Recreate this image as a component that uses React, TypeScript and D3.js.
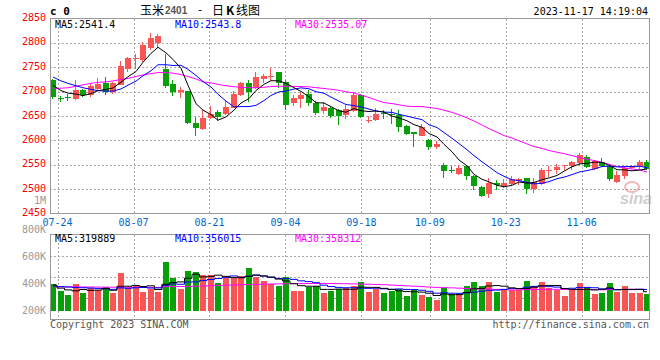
import React from "react";
import * as d3 from "d3";

// trading days shown (07-21 .. 11-17)
const dates = [
  "07-21", "07-24", "07-25", "07-26", "07-27", "07-28", "07-31",
  "08-01", "08-02", "08-03", "08-04", "08-07", "08-08", "08-09", "08-10", "08-11",
  "08-14", "08-15", "08-16", "08-17", "08-18", "08-21", "08-22", "08-23", "08-24", "08-25",
  "08-28", "08-29", "08-30", "08-31", "09-01", "09-04", "09-05", "09-06", "09-07", "09-08",
  "09-11", "09-12", "09-13", "09-14", "09-15", "09-18", "09-19", "09-20", "09-21", "09-22",
  "09-25", "09-26", "09-27", "09-28", "10-09", "10-10", "10-11", "10-12", "10-13",
  "10-16", "10-17", "10-18", "10-19", "10-20", "10-23", "10-24", "10-25", "10-26", "10-27",
  "10-30", "10-31", "11-01", "11-02", "11-03", "11-06", "11-07", "11-08", "11-09", "11-10",
  "11-13", "11-14", "11-15", "11-16", "11-17",
];
const dateTicks = ["07-24", "08-07", "08-21", "09-04", "09-18", "10-09", "10-23", "11-06"];
const priceTicks = [2850, 2800, 2750, 2700, 2650, 2600, 2550, 2500, 2450];
const volTickLabels = ["800K", "600K", "400K", "200K"];

const open = [
  2723, 2687, 2688, 2684, 2704, 2694, 2705, 2718, 2700, 2714,
  2746, 2766, 2765, 2789, 2800, 2746, 2715, 2700, 2701, 2635,
  2624, 2646, 2659, 2654, 2667, 2693, 2718, 2708, 2725, 2731,
  2740, 2719, 2676, 2685, 2695, 2677, 2661, 2667, 2662, 2653,
  2660, 2694, 2641, 2641, 2657, 2655, 2652, 2630, 2617, 2610,
  2601, 2587, 2550, 2539, 2532, 2547, 2527, 2504, 2489, 2512,
  2506, 2510, 2516, 2522, 2501, 2510, 2537, 2539, 2547, 2548,
  2554, 2566, 2542, 2555, 2547, 2514, 2527, 2544, 2545, 2555,
];
const high = [
  2726, 2692, 2695, 2723, 2706, 2717, 2727, 2729, 2720, 2762,
  2771, 2778, 2801, 2820, 2818, 2778, 2723, 2710, 2702, 2647,
  2662, 2670, 2662, 2681, 2702, 2720, 2723, 2740, 2737, 2749,
  2740, 2723, 2693, 2700, 2703, 2680, 2679, 2670, 2664, 2672,
  2700, 2696, 2649, 2666, 2662, 2664, 2663, 2631, 2617, 2634,
  2602, 2598, 2554, 2548, 2550, 2550, 2530, 2506, 2522, 2518,
  2520, 2527, 2523, 2522, 2522, 2544, 2548, 2552, 2550, 2557,
  2575, 2571, 2557, 2564, 2550, 2537, 2548, 2550, 2559, 2559,
];
const low = [
  2685, 2679, 2681, 2683, 2688, 2688, 2703, 2694, 2696, 2713,
  2740, 2747, 2761, 2786, 2790, 2708, 2691, 2687, 2633, 2609,
  2622, 2643, 2639, 2652, 2666, 2691, 2679, 2706, 2717, 2721,
  2707, 2662, 2670, 2666, 2670, 2652, 2654, 2645, 2632, 2643,
  2658, 2645, 2635, 2639, 2643, 2634, 2618, 2611, 2587, 2608,
  2580, 2582, 2522, 2533, 2528, 2519, 2498, 2484, 2482, 2498,
  2503, 2506, 2508, 2491, 2493, 2508, 2525, 2531, 2540, 2540,
  2550, 2544, 2540, 2546, 2516, 2512, 2520, 2541, 2541, 2540,
];
const close = [
  2690, 2685, 2687, 2704, 2693, 2711, 2715, 2700, 2718, 2752,
  2768, 2768, 2795, 2809, 2815, 2711, 2700, 2704, 2635, 2626,
  2645, 2654, 2647, 2669, 2695, 2718, 2700, 2730, 2732, 2732,
  2717, 2673, 2687, 2693, 2677, 2657, 2669, 2650, 2649, 2664,
  2694, 2647, 2642, 2654, 2654, 2652, 2628, 2613, 2614, 2628,
  2587, 2593, 2537, 2538, 2544, 2527, 2506, 2486, 2512, 2508,
  2512, 2521, 2520, 2500, 2515, 2540, 2540, 2545, 2550, 2555,
  2569, 2546, 2557, 2547, 2521, 2528, 2544, 2548, 2555, 2542,
];
const ma5 = [
  2713, 2702, 2697, 2695, 2691.8, 2696, 2702, 2704.6, 2707.4, 2719.2,
  2730.6, 2741.2, 2760.2, 2778.4, 2791, 2779.6, 2766, 2747.8, 2713, 2675.2,
  2662, 2652.8, 2641.4, 2648.2, 2662, 2676.6, 2685.8, 2702.4, 2715, 2722.4,
  2722.2, 2716.8, 2708.2, 2700.4, 2689.4, 2677.4, 2676.6, 2669.2, 2660.4, 2657.8,
  2665.2, 2660.8, 2659.2, 2660.2, 2658.2, 2649.8, 2646, 2640.2, 2632.2, 2627,
  2614, 2607, 2591.8, 2576.6, 2559.8, 2547.8, 2530.4, 2520.2, 2515, 2507.8,
  2504.8, 2507.8, 2514.6, 2512.2, 2513.6, 2519.2, 2523, 2528, 2538, 2546,
  2551.8, 2553, 2555.4, 2554.8, 2548, 2539.8, 2539.4, 2537.6, 2539.2, 2541.4,
];
const ma10 = [
  2730, 2722, 2717, 2712, 2708, 2704.5, 2702, 2701, 2701, 2705.5,
  2713.3, 2721.6, 2732.4, 2742.9, 2755.1, 2755.1, 2753.6, 2754, 2745.7, 2733.1,
  2720.8, 2709.4, 2694.6, 2680.6, 2668.6, 2669.3, 2669.3, 2671.9, 2681.6, 2692.2,
  2699.4, 2701.3, 2705.3, 2707.7, 2705.9, 2699.8, 2696.7, 2688.7, 2680.4, 2673.6,
  2671.3, 2668.7, 2664.2, 2660.3, 2658, 2657.5, 2653.4, 2649.7, 2646.2, 2642.6,
  2631.9, 2626.5, 2616, 2604.4, 2593.4, 2580.9, 2568.7, 2556, 2545.8, 2533.8,
  2526.3, 2519.1, 2517.4, 2513.6, 2510.7, 2512, 2515.4, 2521.3, 2525.1, 2529.8,
  2535.5, 2538, 2541.7, 2546.4, 2547, 2545.8, 2546.2, 2546.5, 2547, 2543.8,
];
const ma30 = [
  2706, 2707, 2708, 2711, 2714, 2717, 2719, 2720, 2722, 2725,
  2727, 2731, 2734, 2737, 2739, 2739, 2738, 2735, 2731, 2726,
  2720, 2718, 2715, 2712, 2710, 2709, 2708, 2708, 2709, 2710.3,
  2711.2, 2710.8, 2710.8, 2710.4, 2709.9, 2708.1, 2706.5, 2704.9, 2702.6, 2699.6,
  2697.2, 2693.1, 2688, 2682.9, 2677.5, 2675.5, 2673.1, 2670.1, 2669.4, 2669.5,
  2667.5, 2665.5, 2661.8, 2657.5, 2652.4, 2646.1, 2639.6, 2631.5, 2624.1, 2616.7,
  2609.8, 2604.8, 2599.2, 2592.8, 2587.4, 2583.5, 2579.2, 2575.7, 2572.4, 2568.7,
  2564.6, 2561.2, 2558.4, 2554.8, 2550.4, 2546.2, 2543.4, 2541.3, 2539.3, 2535.07,
];

// volume, in thousands of lots
const volume = [
  442, 331, 265, 447, 298, 375, 348, 403, 298, 629,
  375, 414, 315, 359, 315, 817, 552, 370, 668, 646,
  596, 596, 469, 569, 541, 585, 718, 569, 502, 447,
  414, 563, 337, 337, 403, 414, 304, 337, 364, 386,
  414, 486, 315, 359, 304, 331, 364, 254, 348, 270,
  237, 182, 375, 282, 282, 414, 486, 414, 486, 309,
  364, 348, 348, 502, 414, 480, 375, 342, 254, 348,
  464, 397, 287, 304, 464, 309, 414, 304, 304, 282,
];
const vma5 = [
  430, 380, 350, 335, 357, 343, 347, 374, 344, 411,
  411, 424, 406, 418, 356, 444, 472, 483, 544, 611,
  566, 575, 595, 575, 554, 552, 576, 596, 583, 564,
  530, 499, 453, 420, 411, 411, 359, 359, 364, 361,
  361, 397, 393, 392, 376, 359, 335, 322, 320, 313,
  295, 258, 282, 269, 272, 307, 368, 376, 416, 422,
  412, 384, 371, 374, 395, 418, 424, 423, 373, 360,
  357, 361, 350, 360, 383, 352, 356, 359, 359, 319.9,
];
const vma10 = [
  414, 405, 398, 392, 386, 381, 375, 368, 360, 384,
  377, 385, 390, 381, 383, 427, 448, 444, 481, 483,
  505, 523, 539, 560, 582, 559, 576, 596, 579, 559,
  541, 538, 525, 501, 488, 470, 429, 406, 392, 386,
  386, 378, 376, 378, 368, 360, 366, 358, 356, 345,
  327, 296, 302, 295, 293, 301, 313, 329, 343, 347,
  359, 376, 373, 395, 409, 415, 404, 397, 374, 378,
  388, 392, 386, 367, 372, 354, 358, 355, 360, 356,
];
const vma30 = [
  403, 402, 401, 400, 399, 398, 397, 396, 395, 394,
  394, 393, 393, 392, 392, 403, 405, 406, 408, 412,
  416, 420, 425, 429, 433, 436, 440, 442, 445, 448,
  450, 452, 454, 455, 456, 457, 457, 456, 455, 453,
  450, 447, 444, 440, 436, 430, 425, 418, 412, 405,
  398, 392, 388, 384, 379, 374, 369, 364, 364, 359,
  357, 350, 351, 356, 356, 359, 361, 361, 358, 356,
  358, 355, 354, 352, 358, 357, 358, 360, 359, 358.3,
];

const RED = "#f95555";
const GREEN = "#08a008";
const GRID = "#aaaaaa";
const BORDER = "#999999";
const MONO = "DejaVu Sans Mono, monospace";

const L = 50, R = 650;
const P_TOP = 18.5, P_BOT = 213.5;
const V_TOP = 234.5, V_BOT = 319.5, V_BASE = 311;

export default function App() {
  const idx = dates.map((_, i) => i);
  const x = d3.scaleBand<number>().domain(idx).range([L, R]).paddingInner(0.24).paddingOuter(0).align(0);
  const bw = Math.round(x.bandwidth());
  const left = (i: number) => Math.round(x(i) ?? 0);
  const cx = (i: number) => left(i) + bw / 2;
  // date grid is spread over one slot less than the candles
  const gx = d3.scaleLinear().domain([0, dates.length - 1]).range([L, R]);

  const y = d3.scaleLinear().domain([2450, 2850]).range([P_BOT, P_TOP]);
  const yv = d3.scaleLinear().domain([0, 1270]).range([V_BASE, V_TOP]);
  const yvLab = d3.scalePoint<string>().domain(volTickLabels).range([233, 314]);

  const priceLine = (vals: number[]) =>
    d3.line<number>().x((_, i) => cx(i)).y((d) => y(d))(vals) ?? "";
  const volLine = (vals: number[]) =>
    d3.line<number>().x((_, i) => cx(i)).y((d) => yv(d)).curve(d3.curveStep)(vals) ?? "";

  const up = (i: number) => close[i] >= open[i];
  const crisp = (v: number) => Math.round(v) + 0.5;

  return (
    <svg width={660} height={360} style={{ position: "absolute", left: 0, top: 0, background: "#fff" }}>
      {/* header */}
      <text x={50} y={15} fontFamily={MONO} fontWeight="bold" fontSize={11}>c 0</text>
      <g fontFamily="Noto Sans CJK SC" fontSize={12} fill="#000">
        <text x={140} y={14.5}>玉米</text>
        <text x={165} y={14} fontFamily="Liberation Sans" fontWeight="bold" fontSize={10} fill="#555">2401</text>
        <text x={198} y={14}>-</text>
        <text x={212} y={14.5}>日</text>
        <text x={226} y={14.5} fontWeight="bold">K</text>
        <text x={236} y={14.5}>线图</text>
      </g>
      <text x={648} y={15} textAnchor="end" fontFamily={MONO} fontSize={10}>2023-11-17 14:19:04</text>

      {/* price panel grid */}
      {priceTicks.slice(1, -1).map((t) => (
        <line key={t} x1={L} x2={R} y1={crisp(y(t))} y2={crisp(y(t))} stroke={GRID} strokeDasharray="2 2" shapeRendering="crispEdges" />
      ))}
      {dateTicks.map((d) => (
        <line key={d} x1={crisp(gx(dates.indexOf(d)))} x2={crisp(gx(dates.indexOf(d)))} y1={P_TOP} y2={P_BOT} stroke={GRID} strokeDasharray="2 2" shapeRendering="crispEdges" />
      ))}
      {priceTicks.map((t) => (
        <text key={t} x={46} y={y(t) + 2.5} textAnchor="end" fill="#ff0000" fontFamily={MONO} fontSize={10}>{t}</text>
      ))}
      <text x={46} y={204} textAnchor="end" fill="#999" fontFamily={MONO} fontSize={10}>1M</text>

      {/* watermark */}
      <g opacity={0.4}>
        <ellipse cx={632} cy={187} rx={7} ry={5} fill="none" stroke="#e05050" strokeWidth={2} />
        <text x={636} y={204} textAnchor="middle" fontFamily="Liberation Sans" fontStyle="italic" fontWeight="bold" fontSize={16} fill="#888">sina</text>
      </g>

      {/* candles */}
      {idx.map((i) => {
        const col = up(i) ? RED : GREEN;
        const top = y(Math.max(open[i], close[i]));
        const bot = y(Math.min(open[i], close[i]));
        return (
          <g key={i} shapeRendering="crispEdges">
            <line x1={cx(i) - 0.5} x2={cx(i) - 0.5} y1={y(high[i])} y2={y(low[i])} stroke={col} />
            <rect x={left(i)} y={top} width={bw} height={Math.max(1, bot - top)} fill={col} />
          </g>
        );
      })}
      <path d={priceLine(ma30)} fill="none" stroke="#ff00ff" />
      <path d={priceLine(ma10)} fill="none" stroke="#0000ff" />
      <path d={priceLine(ma5)} fill="none" stroke="#000" />

      <rect x={L + 0.5} y={P_TOP} width={R - L - 1} height={P_BOT - P_TOP} fill="none" stroke={BORDER} shapeRendering="crispEdges" />
      <g fontFamily={MONO} fontSize={10}>
        <text x={55} y={27.5} fill="#000">MA5:2541.4</text>
        <text x={175} y={27.5} fill="#0000ff">MA10:2543.8</text>
        <text x={295} y={27.5} fill="#ff00ff">MA30:2535.07</text>
      </g>

      {/* date labels */}
      {dateTicks.map((d) => (
        <text key={d} x={gx(dates.indexOf(d))} y={225.5} textAnchor="middle" fill="#0066cc" fontFamily={MONO} fontSize={10}>{d}</text>
      ))}

      {/* volume panel */}
      {[1, 2, 3].map((q) => (
        <line key={q} x1={L} x2={R} y1={crisp(V_TOP + ((V_BOT - V_TOP) * q) / 4)} y2={crisp(V_TOP + ((V_BOT - V_TOP) * q) / 4)} stroke={GRID} strokeDasharray="2 2" shapeRendering="crispEdges" />
      ))}
      {dateTicks.map((d) => (
        <line key={d} x1={crisp(gx(dates.indexOf(d)))} x2={crisp(gx(dates.indexOf(d)))} y1={V_TOP} y2={V_BOT} stroke={GRID} strokeDasharray="2 2" shapeRendering="crispEdges" />
      ))}
      {volTickLabels.map((t) => (
        <text key={t} x={46} y={yvLab(t)} textAnchor="end" fill="#999" fontFamily={MONO} fontSize={10}>{t}</text>
      ))}
      {idx.map((i) => (
        <rect key={i} x={left(i)} y={yv(volume[i])} width={bw} height={V_BASE - yv(volume[i])} fill={up(i) ? RED : GREEN} shapeRendering="crispEdges" />
      ))}
      <path d={volLine(vma30)} fill="none" stroke="#ff00ff" />
      <path d={volLine(vma10)} fill="none" stroke="#0000ff" />
      <path d={volLine(vma5)} fill="none" stroke="#000" />
      <rect x={L + 0.5} y={V_TOP} width={R - L - 1} height={V_BOT - V_TOP} fill="none" stroke={BORDER} shapeRendering="crispEdges" />
      <g fontFamily={MONO} fontSize={10}>
        <text x={55} y={242} fill="#000">MA5:319889</text>
        <text x={175} y={242} fill="#0000ff">MA10:356015</text>
        <text x={295} y={242} fill="#ff00ff">MA30:358312</text>
      </g>

      {/* footer */}
      <text x={50} y={328} fill="#555" fontFamily={MONO} fontSize={10}>Copyright 2023 SINA.COM</text>
      <text x={649} y={328} textAnchor="end" fill="#555" fontFamily={MONO} fontSize={10}>http://finance.sina.com.cn</text>
    </svg>
  );
}
